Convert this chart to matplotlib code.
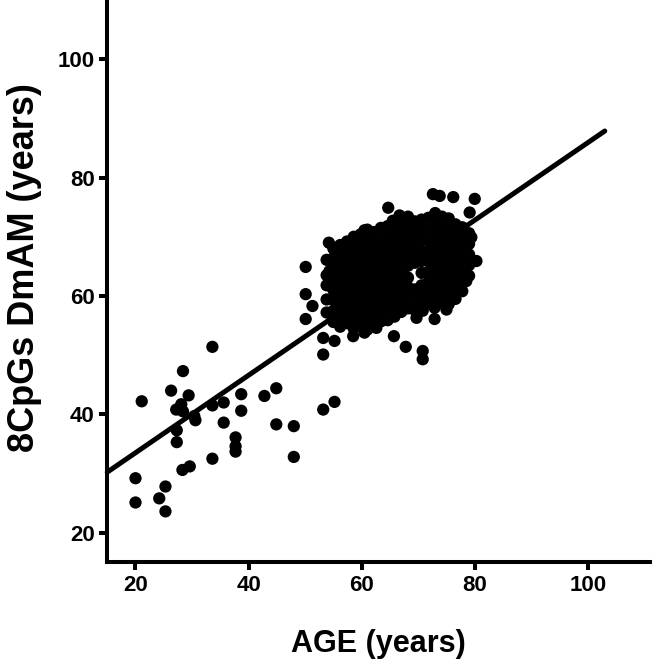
import numpy as np
import matplotlib
matplotlib.use("Agg")
import matplotlib.pyplot as plt

plt.rcParams['font.family'] = ['Liberation Sans', 'DejaVu Sans']
plt.rcParams['font.weight'] = 'bold'

# scattered points outside the main cloud (age, DmAM)
edge_age = [33.6, 28.4, 26.3, 29.4, 21.1, 28.1, 27.2, 28.4, 30.4, 30.6, 27.3, 27.3,
            33.6, 35.6, 35.6, 38.7, 38.7, 37.7, 37.7, 37.7, 42.8, 44.9, 44.9, 48.0,
            48.0, 33.6, 28.3, 29.6, 20.0, 20.0, 25.3, 24.2, 25.3, 53.2, 55.2,
            50.1, 54.2, 60.5, 64.7, 66.7, 72.6, 73.8, 76.2, 80.0, 79.1, 54.3, 50.1,
            51.3, 50.1, 53.2, 53.2, 55.2, 58.5, 60.5, 62.6, 65.7, 67.8, 70.8, 70.8,
            72.9, 72.9, 75.0, 69.7, 56.7, 80.3, 78.5, 70.0, 58.5, 55.5, 79.4, 77.9,
            70.8, 57.9, 65.5]
edge_dmam = [51.4, 47.3, 44.0, 43.2, 42.2, 41.7, 40.8, 40.5, 39.7, 39.0, 37.3, 35.3,
             41.5, 42.0, 38.6, 43.4, 40.6, 36.1, 34.6, 33.7, 43.1, 44.4, 38.3, 38.0,
             32.8, 32.5, 30.6, 31.2, 29.2, 25.1, 27.8, 25.8, 23.6, 40.8, 42.1,
             64.9, 69.0, 71.1, 74.9, 73.6, 77.2, 76.9, 76.7, 76.4, 74.1, 64.2, 60.3,
             58.3, 56.1, 52.9, 50.1, 52.4, 53.2, 53.8, 54.6, 53.2, 51.4, 50.7, 49.3,
             58.0, 56.1, 57.7, 56.3, 55.8, 65.9, 62.5, 72.3, 69.0, 65.6, 69.9, 62.5,
             57.5, 68.2, 72.7]

# dense cloud, estimated column by column
cloud_age = [53.8, 55.0, 56.2, 57.4, 58.6, 59.8, 61.0, 62.2, 63.4, 64.6, 65.8,
             67.0, 68.2, 69.4, 70.6, 71.8, 73.0, 74.2, 75.4, 76.6, 77.8, 79.0]
cloud_dmam = [
    [57.2, 59.4, 61.8, 63.5, 66.1],
    [55.6, 57.5, 59.3, 61.0, 62.7, 64.6, 66.4, 68.0],
    [54.8, 56.7, 58.4, 60.2, 61.9, 63.6, 65.3, 67.1, 68.6],
    [55.4, 57.1, 58.9, 60.6, 62.4, 64.1, 65.8, 67.5, 69.2],
    [54.5, 56.2, 57.9, 59.7, 61.4, 63.1, 64.9, 66.6, 68.3, 70.0],
    [55.0, 56.8, 58.5, 60.3, 62.0, 63.8, 65.5, 67.3, 69.0, 70.4],
    [54.3, 56.1, 57.8, 59.6, 61.3, 63.0, 64.8, 66.5, 68.2, 69.9, 71.2],
    [55.2, 57.0, 58.7, 60.5, 62.2, 63.9, 65.7, 67.4, 69.1, 70.8],
    [55.7, 57.4, 59.1, 60.9, 62.6, 64.4, 66.1, 67.8, 69.6, 71.5],
    [55.9, 57.8, 59.6, 61.3, 63.1, 64.8, 66.5, 68.3, 70.0, 71.8],
    [56.5, 58.3, 60.0, 61.8, 63.5, 65.3, 67.0, 68.7, 70.5, 72.3],
    [57.3, 59.0, 60.8, 62.6, 64.2, 66.0, 67.7, 69.5, 71.2, 73.0],
    [57.9, 59.8, 61.5, 63.1, 65.1, 66.8, 68.5, 70.3, 72.0, 73.4],
    [57.6, 59.4, 61.1, 65.6, 67.4, 69.1, 70.9, 72.6],
    [58.2, 60.0, 61.8, 63.9, 65.9, 67.6, 69.4, 71.1, 72.9],
    [58.7, 60.5, 62.3, 64.1, 65.9, 67.7, 69.5, 71.3, 73.2],
    [58.4, 60.2, 62.0, 63.8, 65.6, 67.4, 69.2, 71.0, 72.8, 74.0],
    [59.0, 60.8, 62.6, 64.4, 66.2, 68.0, 69.8, 71.6, 73.4],
    [58.6, 60.4, 62.2, 64.0, 65.8, 67.6, 69.4, 71.2, 73.1],
    [59.5, 61.3, 63.1, 64.9, 66.7, 68.5, 70.3, 72.1],
    [60.8, 62.6, 64.4, 66.2, 68.0, 69.8, 71.6],
    [63.4, 65.2, 67.0, 68.8, 70.6],
]

# regression line as drawn
line_x = np.array([15, 103])
line_slope = 0.655
line_intercept = 20.4

age = list(edge_age)
dmam = list(edge_dmam)
for a, ys in zip(cloud_age, cloud_dmam):
    age += [a] * len(ys)
    dmam += ys

fig = plt.figure(figsize=(6.66, 6.67), dpi=100)
ax = fig.add_axes([0.161, 0.157, 0.815, 0.843])

ax.scatter(age, dmam, s=78, color='black', edgecolors='none', zorder=3, clip_on=False)
ax.plot(line_x, line_intercept + line_slope * line_x, color='black', lw=3.6,
        solid_capstyle='round', zorder=4, clip_on=False)

ax.set_xlim(15, 111)
ax.set_ylim(15, 110)
ax.set_xticks([20, 40, 60, 80, 100])
ax.set_yticks([20, 40, 60, 80, 100])

for s in ['top', 'right']:
    ax.spines[s].set_visible(False)
for s in ['left', 'bottom']:
    ax.spines[s].set_linewidth(2.9)
ax.tick_params(direction='out', length=6, width=2.9, labelsize=16, pad=3)
for lab in ax.get_xticklabels() + ax.get_yticklabels():
    lab.set_fontweight('bold')

ax.set_xlabel('AGE (years)', fontsize=22, fontweight='bold', labelpad=24)
ax.set_ylabel('8CpGs DmAM (years)', fontsize=26, fontweight='bold')
ax.yaxis.set_label_coords(-0.12, 0.525)

fig.savefig('out.png', dpi=100)
